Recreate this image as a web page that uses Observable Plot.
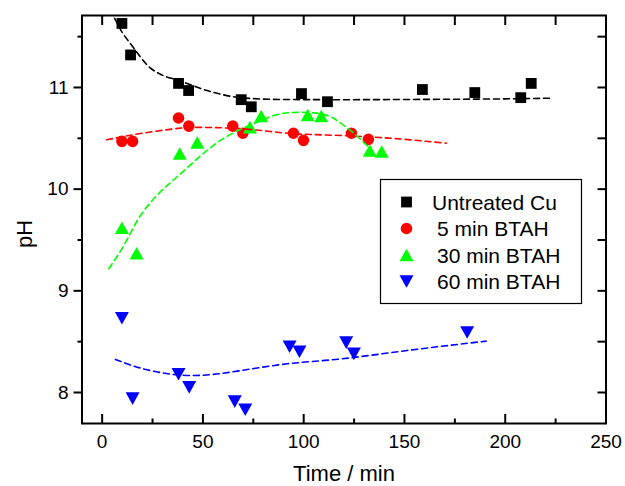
<!DOCTYPE html>
<html>
<head>
<meta charset="utf-8">
<script src="https://cdn.jsdelivr.net/npm/d3@7"></script>
<script src="https://cdn.jsdelivr.net/npm/@observablehq/plot@0.6"></script>
<style>
  html, body { margin: 0; padding: 0; background: #fff; }
  #chart svg { display: block; }
</style>
</head>
<body>
<div id="chart"></div>
<script>
// Measured pH of the solution over time for copper with different BTAH pre-treatments
const untreatedTime = [9.8, 14.1, 37.9, 42.9, 69.0, 74.0, 98.9, 111.8, 158.9, 184.9, 207.7, 212.9];
const untreatedPH   = [11.63, 11.32, 11.04, 10.97, 10.88, 10.81, 10.94, 10.86, 10.98, 10.95, 10.90, 11.04];

const btah5Time = [9.8, 15.1, 37.9, 43.0, 64.8, 69.8, 94.9, 99.9, 123.7, 132.1];
const btah5PH   = [10.47, 10.47, 10.70, 10.62, 10.62, 10.55, 10.55, 10.48, 10.55, 10.49];

const btah30Time = [9.8, 17.1, 38.5, 47.2, 73.3, 78.9, 102.0, 108.7, 132.8, 138.7];
const btah30PH   = [9.62, 9.37, 10.35, 10.46, 10.61, 10.72, 10.73, 10.72, 10.38, 10.37];

const btah60Time = [9.8, 15.1, 37.9, 43.2, 65.8, 71.0, 93.0, 97.9, 121.1, 124.9, 181.1];
const btah60PH   = [8.73, 7.94, 8.18, 8.05, 7.91, 7.83, 8.45, 8.40, 8.49, 8.38, 8.59];

// Fitted trend curves (dashed), sampled along each curve
const fitUntreatedTime = [6.2, 10, 14.1, 24, 30, 37.9, 52.1, 68.7, 88.6, 120, 160, 200, 223.8];
const fitUntreatedPH   = [11.68, 11.54, 11.43, 11.19, 11.12, 11.07, 10.97, 10.90, 10.882, 10.88, 10.883, 10.888, 10.895];

const fit5Time = [2.2, 20, 38.9, 50, 63.7, 80, 95.1, 115, 134.8, 150, 170.8];
const fit5PH   = [10.486, 10.55, 10.60, 10.607, 10.60, 10.575, 10.545, 10.53, 10.511, 10.49, 10.452];

const fit30Time = [3.3, 10, 19, 24.9, 38.9, 58.7, 76.9, 88.6, 98.4, 105, 113.5, 118.3, 123.7, 128.2, 132.9];
const fit30PH   = [9.217, 9.42, 9.741, 9.889, 10.151, 10.479, 10.659, 10.741, 10.757, 10.75, 10.711, 10.65, 10.57, 10.49, 10.40];

const fit60Time = [6.6, 22.4, 43.8, 67.0, 91.8, 118.3, 151.3, 190.5];
const fit60PH   = [8.325, 8.223, 8.167, 8.21, 8.282, 8.33, 8.413, 8.505];

const seriesNames = ["Untreated Cu", "5 min BTAH", "30 min BTAH", "60 min BTAH"];
const seriesColors = ["#000000", "#ff0000", "#00ff00", "#0000ff"];
const fitCurves = ["monotone-x", "natural", "monotone-x", "natural"];

const xMajorTicks = [0, 50, 100, 150, 200, 250];
const xMinorTicks = [25, 75, 125, 175, 225];
const xTopTicks = [0, 25, 50, 75, 100, 125, 150, 175, 200, 225, 250];
const yMajorTicks = [8, 9, 10, 11];
const yMinorTicks = [8.5, 9.5, 10.5, 11.5];
const yRightTicks = [8, 8.5, 9, 9.5, 10, 10.5, 11, 11.5];

// Marker shapes; size is passed in as PI * r^2
const rOf = (size) => Math.sqrt(size / Math.PI);
const squareSym = { draw(ctx, size) { const r = rOf(size); ctx.rect(-r, -r, 2 * r, 2 * r); } };
const circleSym = { draw(ctx, size) { const r = rOf(size); ctx.moveTo(r, 0); ctx.arc(0, 0, r, 0, 2 * Math.PI); } };
const triUpSym = { draw(ctx, size) { const r = rOf(size), h = r * 0.9; ctx.moveTo(0, -h); ctx.lineTo(r, h); ctx.lineTo(-r, h); ctx.closePath(); } };
const triDownSym = { draw(ctx, size) { const r = rOf(size), h = r * 0.9; ctx.moveTo(0, h); ctx.lineTo(r, -h); ctx.lineTo(-r, -h); ctx.closePath(); } };
const seriesSymbols = [squareSym, circleSym, triUpSym, triDownSym];
const seriesRadius = [5.4, 5.8, 7, 7];

const pointSets = [
  [untreatedTime, untreatedPH],
  [btah5Time, btah5PH],
  [btah30Time, btah30PH],
  [btah60Time, btah60PH]
];
const fitSets = [
  [fitUntreatedTime, fitUntreatedPH],
  [fit5Time, fit5PH],
  [fit30Time, fit30PH],
  [fit60Time, fit60PH]
];
const toRows = ([t, p]) => t.map((time, i) => ({time, ph: p[i]}));

const FONT = "'Liberation Sans', Arial, Helvetica, sans-serif";

const marks = [];
pointSets.forEach((set, i) => {
  marks.push(Plot.dot(toRows(set), {
    x: "time", y: "ph", fill: seriesColors[i], stroke: "none",
    symbol: seriesSymbols[i], r: seriesRadius[i]
  }));
});
fitSets.forEach((set, i) => {
  marks.push(Plot.line(toRows(set), {
    x: "time", y: "ph", stroke: seriesColors[i], strokeWidth: 1.6,
    strokeDasharray: "6,4", curve: fitCurves[i]
  }));
});

const chart = Plot.plot({
  width: 625,
  height: 486,
  marginLeft: 81.5,
  marginRight: 19.5,
  marginTop: 15,
  marginBottom: 63,
  x: {domain: [-10, 250]},
  y: {domain: [7.695, 11.708]},
  style: {fontFamily: FONT, fontSize: "19px", color: "#000", background: "#fff", overflow: "visible"},
  marks: [
    ...marks,
    Plot.frame({stroke: "#000", strokeWidth: 2}),
    Plot.axisX({anchor: "bottom", ticks: xMajorTicks, tickSize: -9, tickPadding: 19.5, strokeWidth: 2, fontSize: 19, label: null, tickFormat: d => String(d)}),
    Plot.axisX({anchor: "bottom", ticks: xMinorTicks, tickSize: -4.5, strokeWidth: 2, fill: "none", label: null}),
    Plot.axisX({anchor: "top", ticks: xTopTicks, tickSize: -9, strokeWidth: 2, fill: "none", label: null}),
    Plot.axisY({anchor: "left", ticks: yMajorTicks, tickSize: 8, tickPadding: 5.5, strokeWidth: 2, fontSize: 19, label: null, tickFormat: d => String(d)}),
    Plot.axisY({anchor: "left", ticks: yMinorTicks, tickSize: 4, strokeWidth: 2, fill: "none", label: null}),
    Plot.axisY({anchor: "right", ticks: yRightTicks, tickSize: -9, strokeWidth: 2, fill: "none", label: null})
  ]
});

document.getElementById("chart").appendChild(chart);

// Axis titles and legend box
const svg = d3.select(chart);
svg.append("text")
  .attr("x", 344).attr("y", 481)
  .attr("text-anchor", "middle")
  .style("font-family", FONT).style("font-size", "22px").attr("fill", "#000")
  .text("Time / min");
svg.append("text")
  .attr("transform", "translate(32,234) rotate(-90)")
  .attr("text-anchor", "middle")
  .style("font-family", FONT).style("font-size", "22px").attr("fill", "#000")
  .text("pH");

const legend = svg.append("g").attr("text-anchor", "start");
legend.append("rect")
  .attr("x", 380.5).attr("y", 179.5).attr("width", 201).attr("height", 124)
  .attr("fill", "#fff").attr("stroke", "#000").attr("stroke-width", 1.2);
const rowY = [202, 228.5, 255, 281.5];
const textX = [432, 437, 437, 437];
seriesNames.forEach((name, i) => {
  legend.append("path")
    .attr("transform", `translate(406.5,${rowY[i]})`)
    .attr("d", d3.symbol(seriesSymbols[i], Math.PI * seriesRadius[i] ** 2)())
    .attr("fill", seriesColors[i]);
  legend.append("text")
    .attr("x", textX[i]).attr("y", rowY[i] + 7.5)
    .attr("text-anchor", "start")
    .style("font-family", FONT).style("font-size", "21px").attr("fill", "#000")
    .text(name);
});
</script>
</body>
</html>
